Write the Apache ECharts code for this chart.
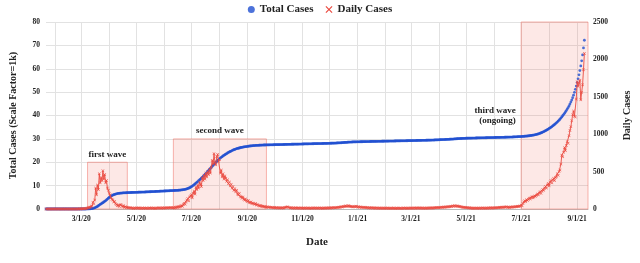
<!DOCTYPE html>
<html><head><meta charset="utf-8">
<script src="https://cdn.jsdelivr.net/npm/echarts@6/dist/echarts.min.js"></script>
<style>html,body{margin:0;padding:0;background:#fff}#c{width:640px;height:263px}</style>
</head><body><div id="c"></div>
<script>
// ---- data ----
const startDate = [2020, 0, 22];       // first category: 1/22/20
const dayCount = 601;                  // axis runs to 9/13/21
const xTickLabels = ['3/1/20','5/1/20','7/1/20','9/1/20','11/1/20','1/1/21','3/1/21','5/1/21','7/1/21','9/1/21'];

const dailyCases = [
0,0,0,0,0,0,0,0,0,0,
0,0,0,0,0,0,0,0,0,0,
0,0,0,0,0,0,0,0,0,0,
0,0,0,0,0,1,0,2,1,3,
2,5,4,8,6,10,12,18,25,20,
35,40,90,70,120,280,190,320,260,470,
350,420,380,510,400,460,350,380,280,250,
210,190,150,130,120,95,100,70,60,45,
50,35,55,60,40,30,45,25,30,20,
25,15,20,12,18,10,12,8,15,10,
14,9,12,16,8,11,10,14,7,12,
9,13,10,8,12,15,9,12,10,14,
11,8,13,10,16,12,14,10,12,18,
11,15,13,17,12,16,18,14,20,16,
15,20,12,25,18,30,22,35,28,40,
45,38,60,75,65,95,120,140,110,160,
175,190,150,210,240,200,290,260,320,280,
360,330,300,420,380,450,400,480,430,500,
460,530,480,560,650,600,740,620,590,700,
730,640,660,480,520,430,470,400,440,410,
370,390,340,360,310,330,280,300,250,270,
230,250,200,190,210,170,160,145,160,130,
120,135,110,100,115,90,85,95,75,80,
70,65,72,55,60,50,45,40,48,35,
38,30,32,28,25,30,22,26,20,24,
18,20,16,22,15,18,14,20,12,17,
15,14,18,12,16,22,25,30,24,20,
16,14,18,12,15,10,16,13,11,15,
12,10,14,12,9,13,11,15,10,12,
14,11,9,13,10,12,15,11,14,10,
13,12,10,14,11,13,9,12,15,11,
13,14,12,16,13,15,18,14,17,20,
16,18,22,20,25,22,28,30,26,35,
32,38,42,35,40,45,38,32,36,30,
28,34,30,38,32,26,30,24,28,22,
25,20,24,18,22,16,20,15,18,14,
17,15,12,16,13,11,14,12,10,13,
11,12,10,14,11,9,13,10,12,11,
9,10,12,9,11,13,10,8,12,10,
11,9,12,10,8,11,13,10,12,9,
11,12,10,14,11,13,10,12,15,11,
13,14,12,15,13,11,14,12,10,13,
11,12,14,11,15,13,16,14,12,15,
17,16,19,17,21,18,22,20,24,22,
26,25,28,26,30,28,33,30,36,34,
40,38,44,40,36,42,38,33,35,30,
28,25,22,24,19,21,17,18,15,16,
13,13,11,9,12,10,12,11,9,13,
10,12,10,14,11,13,10,12,15,11,
14,13,16,12,15,14,18,15,17,16,
20,18,22,19,24,21,26,23,28,25,
30,22,25,21,27,24,28,26,30,27,
33,30,36,32,40,38,
50,45,75,95,110,100,125,115,130,145,
135,150,165,150,160,175,170,185,200,190,
215,230,210,240,260,250,280,300,280,320,
340,310,360,380,350,390,410,380,420,430,
470,450,500,520,600,720,700,760,820,780,
850,900,880,980,1050,1100,1180,1260,1310,1240,
1230,1470,1700,1640,1680,1720,1460,1560,1660,1860,2080
];

const totalCases = [
0,0,0,0,0,0,0,0,0,0,
0,0,0,0,0,0,0,0,0,0,
0,0,0,0,0,0,0,0,0,0,
0,0,0,0,0,0,0,0,0,0,
0,0,0,0,0.01,0.02,0.03,0.05,0.07,0.1,
0.15,0.2,0.3,0.4,0.5,0.7,0.9,1.1,1.4,1.7,
1.95,2.2,2.45,2.7,3.0,3.25,3.55,3.9,4.25,4.6,
4.95,5.25,5.5,5.75,5.95,6.1,6.25,6.4,6.5,6.6,
6.65,6.7,6.75,6.8,6.83,6.86,6.9,6.92,6.94,6.96,
6.98,7.0,7.02,7.03,7.05,7.06,7.08,7.09,7.1,7.12,
7.13,7.15,7.16,7.18,7.19,7.2,7.22,7.23,7.25,7.26,
7.28,7.3,7.31,7.33,7.35,7.37,7.39,7.41,7.43,7.45,
7.47,7.49,7.51,7.53,7.55,7.57,7.59,7.61,7.63,7.65,
7.67,7.69,7.71,7.73,7.75,7.77,7.79,7.81,7.83,7.85,
7.87,7.89,7.91,7.93,7.95,7.97,8.0,8.03,8.06,8.1,
8.14,8.19,8.25,8.32,8.4,8.5,8.62,8.76,8.92,9.1,
9.3,9.55,9.8,10.1,10.4,10.7,11.05,11.4,11.75,12.1,
12.45,12.8,13.15,13.55,13.95,14.35,14.75,15.15,15.6,16.05,
16.5,16.95,17.4,17.85,18.3,18.75,19.2,19.6,20.0,20.4,
20.75,21.1,21.45,21.8,22.1,22.4,22.7,22.95,23.2,23.45,
23.7,23.95,24.2,24.4,24.6,24.8,25.0,25.2,25.35,25.5,
25.65,25.8,25.9,26.0,26.1,26.2,26.3,26.38,26.46,26.54,
26.6,26.66,26.72,26.78,26.84,26.9,26.95,27.0,27.04,27.08,
27.12,27.15,27.18,27.21,27.24,27.26,27.28,27.3,27.32,27.34,
27.36,27.37,27.38,27.39,27.4,27.41,27.42,27.43,27.44,27.45,
27.46,27.47,27.48,27.49,27.5,27.51,27.52,27.53,27.54,27.55,
27.56,27.57,27.58,27.59,27.6,27.61,27.62,27.64,27.65,27.66,
27.67,27.68,27.69,27.7,27.71,27.72,27.73,27.74,27.75,27.75,
27.76,27.77,27.78,27.79,27.8,27.81,27.82,27.83,27.84,27.85,
27.86,27.87,27.88,27.89,27.9,27.91,27.92,27.93,27.94,27.95,
27.96,27.97,27.98,27.99,28.0,28.01,28.02,28.03,28.04,28.05,
28.06,28.07,28.08,28.09,28.1,28.12,28.13,28.15,28.17,28.18,
28.2,28.22,28.24,28.26,28.28,28.3,28.33,28.35,28.38,28.41,
28.44,28.47,28.5,28.53,28.56,28.59,28.61,28.63,28.65,28.67,
28.68,28.69,28.7,28.71,28.72,28.73,28.74,28.75,28.76,28.77,
28.78,28.79,28.8,28.81,28.82,28.83,28.84,28.85,28.86,28.87,
28.88,28.89,28.9,28.91,28.91,28.92,28.93,28.94,28.95,28.95,
28.96,28.97,28.98,28.99,28.99,29.0,29.01,29.02,29.03,29.03,
29.04,29.05,29.06,29.07,29.07,29.08,29.09,29.1,29.11,29.11,
29.12,29.13,29.14,29.15,29.15,29.16,29.17,29.18,29.18,29.19,
29.2,29.21,29.22,29.23,29.24,29.25,29.26,29.27,29.28,29.29,
29.3,29.31,29.32,29.33,29.34,29.35,29.36,29.37,29.38,29.39,
29.4,29.41,29.42,29.43,29.44,29.45,29.46,29.48,29.49,29.5,
29.52,29.53,29.55,29.57,29.58,29.6,29.62,29.64,29.66,29.68,
29.7,29.71,29.73,29.75,29.77,29.79,29.81,29.83,29.86,29.88,
29.9,29.93,29.96,29.99,30.02,30.05,30.08,30.11,30.13,30.15,
30.17,30.19,30.21,30.23,30.24,30.26,30.27,30.28,30.29,30.3,
30.31,30.32,30.33,30.34,30.35,30.36,30.37,30.38,30.39,30.4,
30.41,30.42,30.43,30.44,30.45,30.46,30.47,30.48,30.49,30.5,
30.51,30.52,30.53,30.54,30.55,30.56,30.57,30.58,30.59,30.6,
30.61,30.62,30.63,30.64,30.65,30.66,30.67,30.68,30.69,30.7,
30.71,30.72,30.73,30.75,30.76,30.77,30.79,30.8,30.82,30.84,
30.86,30.88,30.9,30.92,30.95,30.97,
31.0,31.03,31.06,31.09,31.12,31.16,31.2,31.24,31.28,31.33,
31.38,31.44,31.5,31.57,31.64,31.72,31.8,31.9,32.0,32.12,
32.25,32.4,32.55,32.72,32.9,33.1,33.3,33.5,33.72,33.95,
34.2,34.45,34.7,34.95,35.25,35.55,35.85,36.15,36.5,36.85,
37.2,37.6,38.0,38.45,38.9,39.4,39.9,40.4,40.95,41.5,
42.1,42.75,43.4,44.1,44.9,45.75,46.6,47.6,48.7,49.9,
51.2,52.6,54.1,55.7,57.4,59.2,61.2,63.4,65.9,68.9,72.2
];

const waveNames = ['first wave', 'second wave', 'third wave\n(ongoing)'];
const waveStart = ['3/8/20', '6/11/20', '7/1/21'];
const waveEnd   = ['4/21/20', '9/22/20', '9/13/21'];
const waveTop   = [20, 30, 80];

// ---- categories ----
const dates = [];
for (let i = 0; i < dayCount; i++) {
  const d = new Date(Date.UTC(startDate[0], startDate[1], startDate[2] + i));
  dates.push((d.getUTCMonth() + 1) + '/' + d.getUTCDate() + '/' + String(d.getUTCFullYear()).slice(2));
}

const FONT = "'Liberation Serif', 'DejaVu Serif', serif";
const BLUE = '#1f4fd1';
const RED = '#ea4a40';
const XMARK = 'path://M0,1.2L1.2,0L5,3.8L8.8,0L10,1.2L6.2,5L10,8.8L8.8,10L5,6.2L1.2,10L0,8.8L3.8,5Z';

const markData = waveNames.map((n, k) => [
  { name: n, xAxis: waveStart[k], yAxis: 0,
    label: k === 2 ? { position: 'left', distance: 5, align: 'right', lineHeight: 10 } : { position: 'top', distance: 3 } },
  { xAxis: waveEnd[k], yAxis: waveTop[k] }
]);

const chart = echarts.init(document.getElementById('c'), null, { renderer: 'canvas' });
chart.setOption({
  animation: false,
  textStyle: { fontFamily: FONT },
  legend: {
    top: -1, left: 'center', itemGap: 12, itemWidth: 7, itemHeight: 7,
    textStyle: { fontFamily: FONT, fontWeight: 'bold', fontSize: 11, color: '#222' },
    data: [
      { name: 'Total Cases', icon: 'circle' },
      { name: 'Daily Cases', icon: XMARK }
    ]
  },
  grid: { left: 42, right: 46, top: 22, bottom: 54 },
  xAxis: {
    type: 'category', data: dates, boundaryGap: false,
    name: 'Date', nameLocation: 'middle', nameGap: 28,
    nameTextStyle: { fontFamily: FONT, fontWeight: 'bold', fontSize: 11, color: '#222' },
    axisTick: { show: false },
    axisLine: { lineStyle: { color: '#bbb', width: 1 } },
    axisLabel: {
      interval: (i, v) => xTickLabels.indexOf(v) >= 0,
      fontFamily: FONT, fontWeight: 'bold', fontSize: 7.5, color: '#222', margin: 6
    },
    splitLine: {
      show: true, interval: (i, v) => v.split('/')[1] === '1',
      lineStyle: { color: '#e2e2e2', width: 1 }
    }
  },
  yAxis: [
    {
      type: 'value', min: 0, max: 80, interval: 10,
      name: 'Total Cases (Scale Factor=1k)', nameLocation: 'middle', nameGap: 28,
      nameTextStyle: { fontFamily: FONT, fontWeight: 'bold', fontSize: 10, color: '#222' },
      axisLine: { show: false }, axisTick: { show: false },
      axisLabel: { fontFamily: FONT, fontWeight: 'bold', fontSize: 7.5, color: '#222', margin: 6 },
      splitLine: { lineStyle: { color: '#e2e2e2', width: 1 } }
    },
    {
      type: 'value', min: 0, max: 2500, interval: 500,
      name: 'Daily Cases', nameLocation: 'middle', nameGap: 34,
      nameTextStyle: { fontFamily: FONT, fontWeight: 'bold', fontSize: 10, color: '#222' },
      axisLine: { show: false }, axisTick: { show: false },
      axisLabel: { fontFamily: FONT, fontWeight: 'bold', fontSize: 7.5, color: '#222', margin: 5,
                   formatter: v => String(v) },
      splitLine: { show: false }
    }
  ],
  series: [
    {
      name: 'Total Cases', type: 'scatter', yAxisIndex: 0,
      data: totalCases, symbol: 'circle', symbolSize: 2.8,
      itemStyle: { color: BLUE },
      markArea: {
        silent: true,
        itemStyle: { color: 'rgba(244, 110, 100, 0.16)', borderColor: 'rgba(240, 120, 110, 0.55)', borderWidth: 1 },
        label: { fontFamily: FONT, fontWeight: 'bold', fontSize: 9, color: '#222' },
        data: markData
      }
    },
    {
      name: 'Daily Cases', type: 'line', yAxisIndex: 1,
      data: dailyCases, symbol: XMARK, symbolSize: 3, showSymbol: true, showAllSymbol: true,
      lineStyle: { color: RED, width: 0.9 },
      itemStyle: { color: RED },
      z: 3
    }
  ]
});
</script>
</body></html>
